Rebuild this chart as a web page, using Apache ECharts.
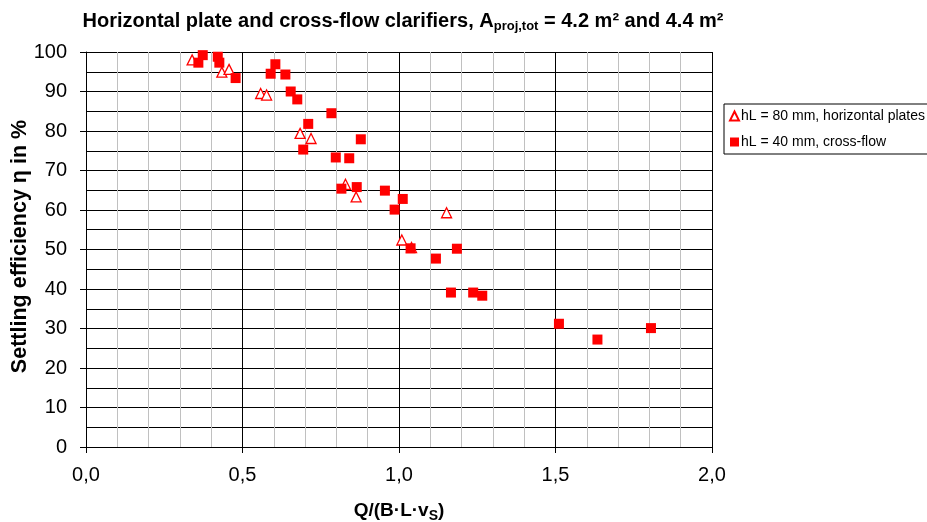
<!DOCTYPE html>
<html><head><meta charset="utf-8">
<script src="https://cdn.jsdelivr.net/npm/echarts@6/dist/echarts.min.js"></script>
<style>html,body{margin:0;padding:0;background:#fff;overflow:hidden}#c{width:927px;height:522px}</style>
</head><body><div id="c"></div>
<script>
const plateX = [0.339,0.434,0.457,0.558,0.577,0.684,0.719,0.829,0.863,1.009,1.04,1.152];
const plateY = [98.0,94.9,95.6,89.5,89.1,79.4,78.1,66.5,63.3,52.4,50.5,59.3];
const crossX = [0.373,0.359,0.421,0.426,0.478,0.590,0.605,0.637,0.654,0.675,0.784,0.710,0.878,0.694,0.798,0.841,0.816,0.865,0.955,1.012,0.986,1.037,1.185,1.118,1.166,1.237,1.266,1.511,1.634,1.805];
const crossY = [99.2,97.3,98.8,97.3,93.4,94.5,96.9,94.3,90.0,88.0,84.5,81.8,77.9,75.3,73.3,73.1,65.4,65.8,64.9,62.8,60.1,50.3,50.2,47.7,39.1,39.1,38.3,31.2,27.2,30.1];
const seriesNames = ['hL = 80 mm, horizontal plates', 'hL = 40 mm, cross-flow'];
const FONT = "'Liberation Sans', Arial, sans-serif";
const zip = (a, b) => a.map((v, i) => [v, b[i]]);

const chart = echarts.init(document.getElementById('c'));
chart.setOption({
  animation: false,
  backgroundColor: '#fff',
  title: {
    text: 'Horizontal plate and cross-flow clarifiers, A{sub|proj,tot} = 4.2 m² and 4.4 m²',
    left: 403, top: 9, textAlign: 'center', padding: 0,
    textStyle: {
      fontFamily: FONT, fontSize: 20, fontWeight: 'bold', color: '#000',
      rich: { sub: { fontFamily: FONT, fontSize: 13, fontWeight: 'bold', color: '#000', verticalAlign: 'bottom', padding: [11, 0, 0, 0] } }
    }
  },
  legend: {
    orient: 'vertical', left: 724, top: 104,
    padding: [5, 25, 5, 5], itemGap: 12,
    itemWidth: 9, itemHeight: 9,
    borderColor: '#000', borderWidth: 1, borderRadius: 0,
    textStyle: { fontFamily: FONT, fontSize: 14, color: '#000', padding: [0, 0, 0, -3] },
    data: seriesNames
  },
  grid: { left: 86, width: 626, top: 52, height: 395, containLabel: false, outerBoundsMode: 'none' },
  xAxis: {
    type: 'value', min: 0, max: 2, interval: 0.5,
    name: 'Q/(B·L·v{sub|S})', nameLocation: 'middle', nameGap: 52,
    nameTextStyle: {
      fontFamily: FONT, fontSize: 19, fontWeight: 'bold', color: '#000',
      rich: { sub: { fontFamily: FONT, fontSize: 14, fontWeight: 'bold', color: '#000', verticalAlign: 'bottom', padding: [10, 0, 0, 0] } }
    },
    axisLine: { show: true, lineStyle: { color: '#000', width: 1 } },
    axisTick: { show: true, length: 6, lineStyle: { color: '#000' } },
    axisLabel: { margin: 18, fontFamily: FONT, fontSize: 20, color: '#000', formatter: v => v.toFixed(1).replace('.', ',') },
    splitLine: { show: true, lineStyle: { color: '#000', width: 1 } },
    minorTick: { show: false, splitNumber: 5 },
    minorSplitLine: { show: true, lineStyle: { color: '#c0c0c0', width: 1 } }
  },
  yAxis: {
    type: 'value', min: 0, max: 100, interval: 10,
    name: 'Settling efficiency η in %', nameLocation: 'middle', nameGap: 55, nameMoveOverlap: false,
    nameTextStyle: { fontFamily: FONT, fontSize: 21.5, fontWeight: 'bold', color: '#000', padding: [0, 0, 0, 6] },
    axisLine: { show: true, lineStyle: { color: '#000', width: 1 } },
    axisTick: { show: true, length: 6, lineStyle: { color: '#000' } },
    axisLabel: { margin: 19, fontFamily: FONT, fontSize: 20, color: '#000' },
    splitLine: { show: true, lineStyle: { color: '#000', width: 1 } },
    minorTick: { show: false, splitNumber: 2 },
    minorSplitLine: { show: true, lineStyle: { color: '#000', width: 1 } }
  },
  series: [
    {
      name: seriesNames[0], type: 'scatter', symbol: 'triangle', symbolSize: 10,
      itemStyle: { color: '#fff', borderColor: '#ff0000', borderWidth: 1.3, opacity: 1 },
      data: zip(plateX, plateY), z: 2
    },
    {
      name: seriesNames[1], type: 'scatter', symbol: 'rect', symbolSize: 10,
      itemStyle: { color: '#ff0000', opacity: 1 },
      data: zip(crossX, crossY), z: 3
    }
  ]
});
</script></body></html>
